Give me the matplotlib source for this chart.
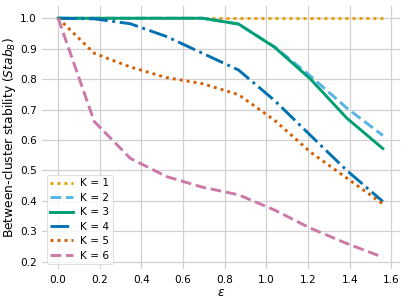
import numpy as np
import matplotlib
matplotlib.use("Agg")
import matplotlib.pyplot as plt

# epsilon values (10 evenly spaced steps)
eps = [0.0, 0.173, 0.346, 0.52, 0.693, 0.866, 1.039, 1.212, 1.386, 1.559]

# stability per number of clusters K
stab_k1 = [1.0, 1.0, 1.0, 1.0, 1.0, 1.0, 1.0, 1.0, 1.0, 1.0]
stab_k2 = [1.0, 1.0, 1.0, 1.0, 1.0, 0.981, 0.906, 0.81, 0.705, 0.615]
stab_k3 = [1.0, 1.0, 1.0, 1.0, 1.0, 0.981, 0.905, 0.80, 0.672, 0.572]
stab_k4 = [1.0, 0.998, 0.982, 0.94, 0.885, 0.83, 0.73, 0.615, 0.50, 0.398]
stab_k5 = [1.0, 0.885, 0.84, 0.805, 0.785, 0.749, 0.665, 0.56, 0.475, 0.39]
stab_k6 = [1.0, 0.661, 0.54, 0.48, 0.445, 0.42, 0.37, 0.31, 0.26, 0.215]

labels = ["K = 1", "K = 2", "K = 3", "K = 4", "K = 5", "K = 6"]
colors = ["#E69F00", "#56B4E9", "#009E73", "#0072B2", "#D55E00", "#CC79A7"]
styles = [(0, (1, 1.4)), "--", "-", "-.", (0, (1, 1.4)), "--"]

tick_fs = 7.6   # tick labels and legend
label_fs = 8.8  # axis labels
plt.rcParams["font.size"] = tick_fs

fig = plt.figure(figsize=(4.07, 3.03), dpi=100)
ax = fig.add_axes([0.103, 0.112, 0.88, 0.867])

series = [stab_k1, stab_k2, stab_k3, stab_k4, stab_k5, stab_k6]
for vals, lab, col, ls in zip(series, labels, colors, styles):
    ax.plot(eps, vals, color=col, linestyle=ls, linewidth=2.1, label=lab)

# whitegrid-like look: light grid, no spines, no tick marks
ax.grid(True, color="#d0d0d0", linewidth=0.9)
ax.set_axisbelow(True)
for s in ax.spines.values():
    s.set_visible(False)
ax.tick_params(axis="x", length=0, pad=4, labelsize=tick_fs)
ax.tick_params(axis="y", length=0, pad=3.5, labelsize=tick_fs)

ax.set_xticks([0.0, 0.2, 0.4, 0.6, 0.8, 1.0, 1.2, 1.4, 1.6])
ax.set_yticks([0.2, 0.3, 0.4, 0.5, 0.6, 0.7, 0.8, 0.9, 1.0])
ax.set_xlim(-0.078, 1.642)
ax.set_ylim(0.176, 1.039)

ax.set_xlabel(r"$\varepsilon$", fontsize=label_fs, labelpad=1)
ax.set_ylabel(r"Between-cluster stability ($Stab_B$)", fontsize=label_fs, labelpad=1.5)

leg = ax.legend(loc="lower left", fontsize=tick_fs, frameon=True, borderaxespad=0.45,
                handlelength=2.1, handletextpad=0.75, labelspacing=0.42, borderpad=0.35)
leg.get_frame().set_edgecolor("#d8d8d8")
leg.get_frame().set_linewidth(0.8)

fig.savefig("out.png", dpi=100)
